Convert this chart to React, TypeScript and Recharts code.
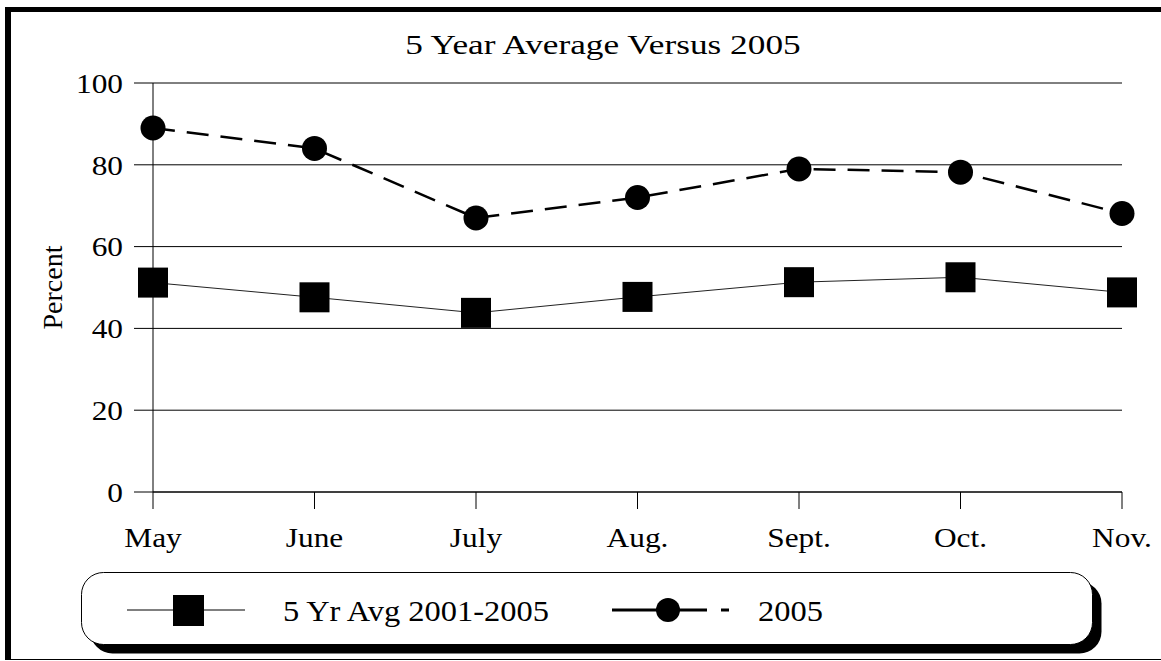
import { CartesianGrid, Line, LineChart, XAxis, YAxis } from 'recharts';

const months = ['May', 'June', 'July', 'Aug.', 'Sept.', 'Oct.', 'Nov.'];
const avg5yr = [51.2, 47.6, 43.8, 47.7, 51.3, 52.5, 48.8];
const y2005 = [89, 84, 67, 72, 79, 78.2, 68.1];
const yTicks = [0, 20, 40, 60, 80, 100];
const seriesNames = ['5 Yr Avg 2001-2005', '2005'];

const data = months.map((m, i) => ({ month: m, avg: avg5yr[i], cur: y2005[i] }));

const FONT = "'Liberation Serif', 'Times New Roman', serif";
const SX = 1.12;

function YTick(props: any) {
  const { x, y, payload } = props;
  return (
    <text
      transform={`translate(${x},${y}) scale(${SX},1)`}
      textAnchor="end"
      dy="0.35em"
      fontSize={28}
      fontFamily={FONT}
      fill="#000"
    >
      {payload.value}
    </text>
  );
}

function XTick(props: any) {
  const { x, y, payload } = props;
  return (
    <text
      transform={`translate(${x},${y + 21}) scale(${SX},1)`}
      textAnchor="middle"
      fontSize={28}
      fontFamily={FONT}
      fill="#000"
    >
      {payload.value}
    </text>
  );
}

function SquareDot(props: any) {
  const { cx, cy, index } = props;
  return <rect key={`sq-${index}`} x={cx - 15} y={cy - 15} width={30} height={30} fill="#000" />;
}

function RoundDot(props: any) {
  const { cx, cy, index } = props;
  return <circle key={`ci-${index}`} cx={cx} cy={cy} r={12.5} fill="#000" />;
}

function YLabel(props: any) {
  const vb = props.viewBox || {};
  const cy = (vb.y || 0) + (vb.height || 0) / 2;
  return (
    <text
      transform={`translate(62,${cy}) rotate(-90)`}
      textAnchor="middle"
      fontSize={28}
      fontFamily={FONT}
      fill="#000"
    >
      Percent
    </text>
  );
}

export default function App() {
  return (
    <div style={{ position: 'relative', width: 1161, height: 661, overflow: 'hidden', background: '#fff' }}>
      <style>{'body{margin:0}'}</style>
      <div
        style={{
          position: 'absolute',
          left: 5,
          top: 7,
          width: 1180,
          height: 653,
          boxSizing: 'border-box',
          borderTop: '5px solid #000',
          borderLeft: '6px solid #000',
          borderBottom: '1px solid #000',
        }}
      />
      <div style={{ position: 'absolute', left: 0, top: 0 }}>
        <LineChart
          width={1161}
          height={661}
          data={data}
          margin={{ top: 83, right: 39, left: 0, bottom: 119 }}
        >
          <CartesianGrid vertical={false} stroke="#000" strokeWidth={1} />
          <XAxis
            dataKey="month"
            height={50}
            stroke="#000"
            tickSize={17}
            tickMargin={17}
            tick={<XTick />}
            interval={0}
          />
          <YAxis
            width={153}
            domain={[0, 100]}
            ticks={yTicks}
            stroke="#000"
            tickSize={19}
            tickMargin={11}
            tick={<YTick />}
            label={<YLabel />}
          />
          <Line
            dataKey="avg"
            name={seriesNames[0]}
            stroke="#222"
            strokeWidth={1}
            dot={SquareDot}
            isAnimationActive={false}
          />
          <Line
            dataKey="cur"
            name={seriesNames[1]}
            stroke="#000"
            strokeWidth={2.5}
            strokeDasharray="22 12"
            dot={RoundDot}
            isAnimationActive={false}
          />
        </LineChart>
      </div>
      <svg
        width={1161}
        height={661}
        style={{ position: 'absolute', left: 0, top: 0, pointerEvents: 'none' }}
      >
        <text
          transform={`translate(603,54) scale(1.26,1)`}
          textAnchor="middle"
          fontSize={28}
          fontFamily={FONT}
          fill="#000"
        >
          5 Year Average Versus 2005
        </text>
        <rect x={90.5} y={581.5} width={1011} height={72} rx={22} fill="#000" />
        <rect x={81.5} y={572.5} width={1011} height={72} rx={22} fill="#fff" stroke="#000" strokeWidth={1} />
        <line x1={127} x2={245} y1={610} y2={610} stroke="#000" strokeWidth={1} />
        <rect x={173} y={595} width={31} height={31} fill="#000" />
        <text
          transform={`translate(283,621) scale(${SX},1)`}
          fontSize={29}
          fontFamily={FONT}
          fill="#000"
        >
          {seriesNames[0]}
        </text>
        <line x1={612} x2={707} y1={610} y2={610} stroke="#000" strokeWidth={3} />
        <line x1={721} x2={729} y1={610} y2={610} stroke="#000" strokeWidth={3} />
        <circle cx={668} cy={610} r={12} fill="#000" />
        <text
          transform={`translate(758,621) scale(${SX},1)`}
          fontSize={29}
          fontFamily={FONT}
          fill="#000"
        >
          {seriesNames[1]}
        </text>
      </svg>
    </div>
  );
}
